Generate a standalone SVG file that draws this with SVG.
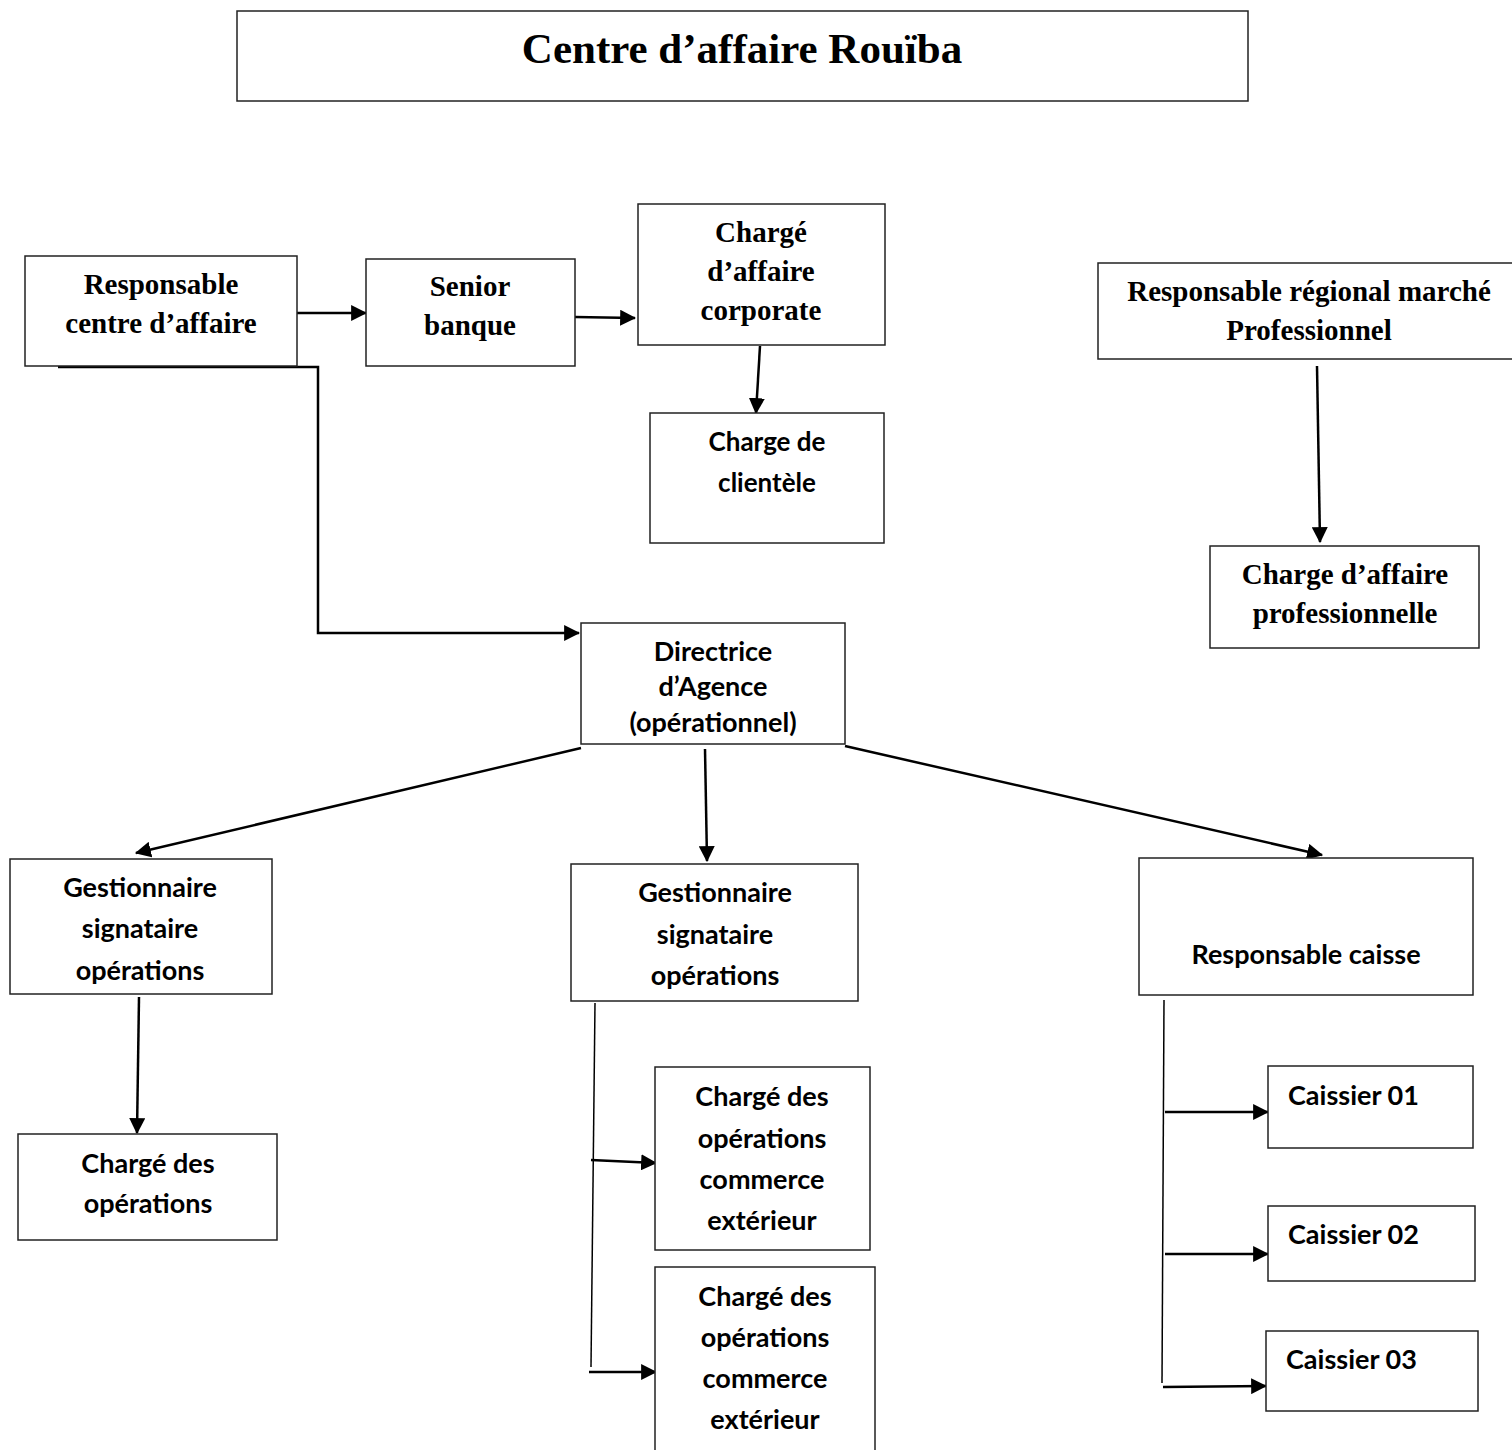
<svg xmlns="http://www.w3.org/2000/svg" width="1512" height="1450" viewBox="0 0 1512 1450">
<defs>
<marker id="ah" viewBox="0 0 14 14" refX="13" refY="7" markerWidth="16" markerHeight="16" markerUnits="userSpaceOnUse" orient="auto">
<path d="M0,0 L14,7 L0,14 Z" fill="#000"/>
</marker>
<style>
.box{fill:#fff;stroke:#222;stroke-width:1.5}
.ser{font-family:"Liberation Serif","Times New Roman",serif;font-weight:bold;fill:#000;text-anchor:middle}
.san{font-family:Lato,"Open Sans","Liberation Sans",sans-serif;font-weight:bold;fill:#000;text-anchor:middle}
.c{fill:none;stroke:#000;stroke-width:2.5}
.t{fill:none;stroke:#000;stroke-width:1.5}
</style>
</defs>
<rect width="1512" height="1450" fill="#fff"/>

<g id="title">
<rect x="237" y="11" width="1011" height="90" class="box"/>
<text x="742" y="63" class="ser" font-size="43">Centre d’affaire Rouïba</text>
</g>

<g id="connectors">
<line x1="297" y1="313" x2="366" y2="313" class="c" marker-end="url(#ah)"/>
<line x1="575" y1="317" x2="635" y2="318" class="c" marker-end="url(#ah)"/>
<line x1="760" y1="346" x2="756" y2="413" class="c" marker-end="url(#ah)"/>
<polyline points="58,367 318,367 318,633 579,633" class="c" marker-end="url(#ah)"/>
<line x1="1317" y1="366" x2="1320" y2="542" class="c" marker-end="url(#ah)"/>
<line x1="581" y1="748" x2="136" y2="853" class="c" marker-end="url(#ah)"/>
<line x1="705" y1="749" x2="707" y2="861" class="c" marker-end="url(#ah)"/>
<line x1="845" y1="746" x2="1322" y2="855" class="c" marker-end="url(#ah)"/>
<line x1="139" y1="997" x2="137" y2="1133" class="c" marker-end="url(#ah)"/>
<line x1="595" y1="1003" x2="591" y2="1367" class="t"/>
<line x1="591" y1="1160" x2="656" y2="1163" class="c" marker-end="url(#ah)"/>
<line x1="589" y1="1372" x2="656" y2="1372" class="c" marker-end="url(#ah)"/>
<line x1="1164" y1="1000" x2="1162" y2="1383" class="t"/>
<line x1="1165" y1="1112" x2="1268" y2="1112" class="c" marker-end="url(#ah)"/>
<line x1="1165" y1="1254" x2="1268" y2="1254" class="c" marker-end="url(#ah)"/>
<line x1="1163" y1="1387" x2="1266" y2="1386" class="c" marker-end="url(#ah)"/>
</g>

<g id="resp-centre">
<rect x="25" y="256" width="272" height="110" class="box"/>
<text x="161" y="294" class="ser" font-size="29">Responsable</text>
<text x="161" y="333" class="ser" font-size="29">centre d’affaire</text>
</g>

<g id="senior">
<rect x="366" y="259" width="209" height="107" class="box"/>
<text x="470" y="296" class="ser" font-size="29">Senior</text>
<text x="470" y="335" class="ser" font-size="29">banque</text>
</g>

<g id="charge-corporate">
<rect x="638" y="204" width="247" height="141" class="box"/>
<text x="761" y="242" class="ser" font-size="29">Chargé</text>
<text x="761" y="281" class="ser" font-size="29">d’affaire</text>
<text x="761" y="320" class="ser" font-size="29">corporate</text>
</g>

<g id="charge-clientele">
<rect x="650" y="413" width="234" height="130" class="box"/>
<text x="767" y="451" class="san" font-size="26">Charge de</text>
<text x="767" y="492" class="san" font-size="26">clientèle</text>
</g>

<g id="resp-regional">
<rect x="1098" y="263" width="420" height="96" class="box"/>
<text x="1309" y="301" class="ser" font-size="29">Responsable régional marché</text>
<text x="1309" y="340" class="ser" font-size="29">Professionnel</text>
</g>

<g id="charge-pro">
<rect x="1210" y="546" width="269" height="102" class="box"/>
<text x="1345" y="584" class="ser" font-size="29">Charge d’affaire</text>
<text x="1345" y="623" class="ser" font-size="29">professionnelle</text>
</g>

<g id="directrice">
<rect x="581" y="623" width="264" height="121" class="box"/>
<text x="713" y="661" class="san" font-size="27">Directrice</text>
<text x="713" y="696" class="san" font-size="27">d’Agence</text>
<text x="713" y="732" class="san" font-size="27">(opérationnel)</text>
</g>

<g id="gest-left">
<rect x="10" y="859" width="262" height="135" class="box"/>
<text x="140" y="897" class="san" font-size="27">Gestionnaire</text>
<text x="140" y="938" class="san" font-size="27">signataire</text>
<text x="140" y="980" class="san" font-size="27">opérations</text>
</g>

<g id="gest-mid">
<rect x="571" y="864" width="287" height="137" class="box"/>
<text x="715" y="902" class="san" font-size="27">Gestionnaire</text>
<text x="715" y="944" class="san" font-size="27">signataire</text>
<text x="715" y="985" class="san" font-size="27">opérations</text>
</g>

<g id="resp-caisse">
<rect x="1139" y="858" width="334" height="137" class="box"/>
<text x="1306" y="964" class="san" font-size="27">Responsable caisse</text>
</g>

<g id="charge-ops">
<rect x="18" y="1134" width="259" height="106" class="box"/>
<text x="148" y="1173" class="san" font-size="27">Chargé des</text>
<text x="148" y="1213" class="san" font-size="27">opérations</text>
</g>

<g id="charge-ce1">
<rect x="655" y="1067" width="215" height="183" class="box"/>
<text x="762" y="1106" class="san" font-size="27">Chargé des</text>
<text x="762" y="1148" class="san" font-size="27">opérations</text>
<text x="762" y="1189" class="san" font-size="27">commerce</text>
<text x="762" y="1230" class="san" font-size="27">extérieur</text>
</g>

<g id="charge-ce2">
<rect x="655" y="1267" width="220" height="195" class="box"/>
<text x="765" y="1306" class="san" font-size="27">Chargé des</text>
<text x="765" y="1347" class="san" font-size="27">opérations</text>
<text x="765" y="1388" class="san" font-size="27">commerce</text>
<text x="765" y="1429" class="san" font-size="27">extérieur</text>
</g>

<g id="caissier1">
<rect x="1268" y="1066" width="205" height="82" class="box"/>
<text x="1288" y="1105" class="san" font-size="27" style="text-anchor:start">Caissier 01</text>
</g>

<g id="caissier2">
<rect x="1268" y="1206" width="207" height="75" class="box"/>
<text x="1288" y="1244" class="san" font-size="27" style="text-anchor:start">Caissier 02</text>
</g>

<g id="caissier3">
<rect x="1266" y="1331" width="212" height="80" class="box"/>
<text x="1286" y="1369" class="san" font-size="27" style="text-anchor:start">Caissier 03</text>
</g>
</svg>
